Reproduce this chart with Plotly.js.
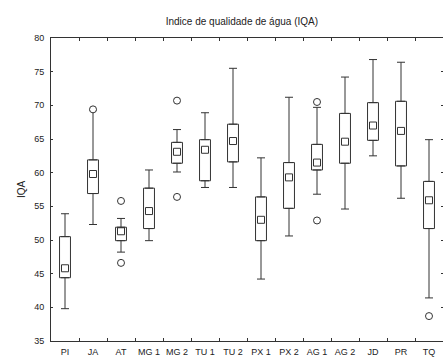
<!DOCTYPE html>
<html>
<head>
<meta charset="utf-8">
<script src="https://cdn.plot.ly/plotly-3.0.1.min.js"></script>
<style>
  html, body { margin: 0; padding: 0; background: #fff; }
  #chart { width: 443px; height: 358px; }
</style>
</head>
<body>
<div id="chart"></div>
<script>
// Sampling sites
const sites = ['PI', 'JA', 'AT', 'MG 1', 'MG 2', 'TU 1', 'TU 2', 'PX 1', 'PX 2', 'AG 1', 'AG 2', 'JD', 'PR', 'TQ'];

// IQA summary per site: non-outlier min/max, quartiles and median
const whiskerMin = [39.8, 52.3, 48.2, 49.9, 60.1, 57.8, 57.8, 44.2, 50.6, 56.8, 54.6, 62.5, 56.2, 41.4];
const q1         = [44.4, 56.9, 49.9, 51.7, 61.4, 58.8, 61.6, 49.9, 54.7, 60.4, 61.4, 64.8, 61.0, 51.7];
const median     = [45.8, 59.8, 51.3, 54.3, 63.1, 63.4, 64.7, 53.0, 59.3, 61.5, 64.6, 67.0, 66.2, 55.9];
const q3         = [50.5, 61.9, 51.9, 57.7, 64.5, 64.9, 67.2, 56.4, 61.5, 64.2, 68.8, 70.4, 70.6, 58.7];
const whiskerMax = [53.9, 69.3, 53.2, 60.4, 66.4, 68.9, 75.5, 62.2, 71.2, 69.7, 74.2, 76.8, 76.4, 64.9];

// Outliers
const outlierSite  = ['JA', 'AT', 'AT', 'MG 2', 'MG 2', 'AG 1', 'AG 1', 'TQ'];
const outlierValue = [69.4, 55.8, 46.6, 70.7, 56.4, 70.5, 52.9, 38.7];

const ink = '#333333';
const fnt = 'Arial, "Liberation Sans", sans-serif';

const traces = [
  // interquartile boxes
  {
    type: 'bar', x: sites, base: q1, y: q3.map((v, i) => v - q1[i]),
    width: 0.39,
    marker: { color: '#ffffff', line: { color: ink, width: 1 } },
    hoverinfo: 'skip'
  },
  // upper whiskers
  {
    type: 'scatter', mode: 'markers', x: sites, y: q3,
    marker: { size: 1, opacity: 0 },
    error_y: { type: 'data', symmetric: false,
               array: whiskerMax.map((v, i) => v - q3[i]),
               arrayminus: q3.map(() => 0),
               width: 4, thickness: 1, color: ink },
    hoverinfo: 'skip'
  },
  // lower whiskers
  {
    type: 'scatter', mode: 'markers', x: sites, y: q1,
    marker: { size: 1, opacity: 0 },
    error_y: { type: 'data', symmetric: false,
               array: q1.map(() => 0),
               arrayminus: q1.map((v, i) => v - whiskerMin[i]),
               width: 4, thickness: 1, color: ink },
    hoverinfo: 'skip'
  },
  // medians
  {
    type: 'scatter', mode: 'markers', x: sites, y: median,
    marker: { symbol: 'square-open', size: 7, color: ink, line: { width: 1 } }
  },
  // outliers
  {
    type: 'scatter', mode: 'markers', x: outlierSite, y: outlierValue,
    marker: { symbol: 'circle', size: 7, color: '#ffffff', line: { color: ink, width: 1 } }
  }
];

const layout = {
  width: 443, height: 358,
  margin: { l: 51, r: 0, t: 38, b: 17 },
  paper_bgcolor: '#ffffff', plot_bgcolor: '#ffffff',
  showlegend: false,
  barmode: 'overlay',
  font: { family: fnt, color: '#222222', size: 9 },
  title: {
    text: 'Indice de qualidade de água (IQA)',
    font: { family: fnt, size: 10, color: '#222222' },
    xref: 'container', x: 0.546, xanchor: 'center',
    yref: 'container', y: 0.941, yanchor: 'middle'
  },
  xaxis: {
    type: 'category', categoryorder: 'array', categoryarray: sites,
    range: [-0.5, 13.5], automargin: false,
    showline: true, linecolor: ink, linewidth: 1, mirror: 'ticks',
    ticks: 'inside', tickson: 'boundaries', ticklen: 3, tickcolor: ink,
    showgrid: false, zeroline: false,
    tickangle: 0, tickfont: { size: 9 }, ticklabelstandoff: 2
  },
  yaxis: {
    range: [35, 80], dtick: 5, tick0: 35, automargin: false,
    showline: true, linecolor: ink, linewidth: 1, mirror: 'ticks',
    ticks: 'inside', ticklen: 2, tickcolor: ink,
    showgrid: false, zeroline: false,
    tickfont: { size: 9 }, ticklabelstandoff: 4,
    title: { text: 'IQA', font: { size: 10 }, standoff: 6 }
  }
};

Plotly.newPlot('chart', traces, layout, { staticPlot: true, displayModeBar: false });
</script>
</body>
</html>
